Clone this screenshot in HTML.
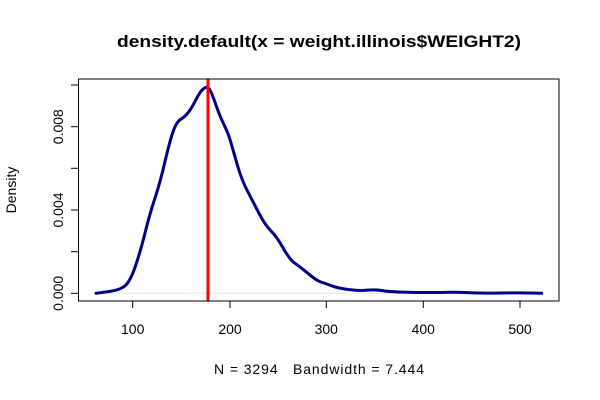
<!DOCTYPE html>
<html><head><style>body{margin:0;background:#fff}svg{display:block;font-family:"Liberation Sans",Arial,sans-serif}</style></head>
<body>
<svg width="600" height="400" viewBox="0 0 600 400">
<rect width="600" height="400" fill="#fff"/>
<text x="117" y="47" font-size="17" font-weight="bold" textLength="404" lengthAdjust="spacingAndGlyphs">density.default(x = weight.illinois$WEIGHT2)</text>
<line x1="96" y1="293.3" x2="542" y2="293.3" stroke="#e6e6e6" stroke-width="1"/>
<path fill="none" stroke="#00008b" stroke-width="3" stroke-linejoin="round" stroke-linecap="round" d="M96,293.3 L108,291.65 Q120,290 125,285.85 Q130,281.7 135,267.35 Q140,253 145,233 Q150,213 155,198 Q160,183 165,161.5 Q170,140 173.35,130.85 Q176.7,121.7 180.85,119.2 Q185,116.7 188.35,112.35 Q191.7,108 195.85,99.85 Q200,91.7 202.85,89.2 Q205.7,86.7 207.85,87.35 Q210,88 215,102.35 Q220,116.7 224.15,125 Q228.3,133.3 230.65,141.65 Q233,150 237.35,165 Q241.7,180 247.35,190.85 Q253,201.7 259,213.35 Q265,225 270.85,230.85 Q276.7,236.7 283.35,248.35 Q290,260 295,263.35 Q300,266.7 308.35,273.7 Q316.7,280.7 320.85,282 Q325,283.3 331.65,285.8 Q338.3,288.3 349.15,289.65 Q360,291 367.5,290.15 Q375,289.3 382.5,290.65 Q390,292 411.5,292.35 Q433,292.7 444.85,292.35 Q456.7,292 468.35,292.65 Q480,293.3 500,293 Q520,292.7 530.85,293 L541.7,293.3"/>
<line x1="208" y1="79" x2="208" y2="301" stroke="#ff0000" stroke-width="3"/>
<rect x="78.5" y="79" width="480.5" height="222" fill="none" stroke="#000" stroke-width="1"/>
<g stroke="#000" stroke-width="1">
<line x1="132.7" y1="301" x2="520" y2="301"/>
<line x1="132.7" y1="301" x2="132.7" y2="308"/><line x1="230" y1="301" x2="230" y2="308"/><line x1="326.3" y1="301" x2="326.3" y2="308"/><line x1="423.3" y1="301" x2="423.3" y2="308"/><line x1="520" y1="301" x2="520" y2="308"/>
<line x1="78.5" y1="85" x2="78.5" y2="293.3"/>
<line x1="71" y1="85" x2="78.5" y2="85"/><line x1="71" y1="126.7" x2="78.5" y2="126.7"/><line x1="71" y1="168.3" x2="78.5" y2="168.3"/><line x1="71" y1="210" x2="78.5" y2="210"/><line x1="71" y1="251.7" x2="78.5" y2="251.7"/><line x1="71" y1="293.3" x2="78.5" y2="293.3"/>
</g>
<g font-size="14" text-anchor="middle">
<text x="132.7" y="334">100</text><text x="230" y="334">200</text><text x="326.3" y="334">300</text><text x="423.3" y="334">400</text><text x="520" y="334">500</text>
<text transform="translate(63,293.3) rotate(-90)">0.000</text>
<text transform="translate(63,210) rotate(-90)">0.004</text>
<text transform="translate(63,126.7) rotate(-90)">0.008</text>
<text transform="translate(16,190) rotate(-90)">Density</text>
</g>
<text x="214" y="374" font-size="14" xml:space="preserve" textLength="210" lengthAdjust="spacing">N = 3294   Bandwidth = 7.444</text>
</svg>
</body></html>
